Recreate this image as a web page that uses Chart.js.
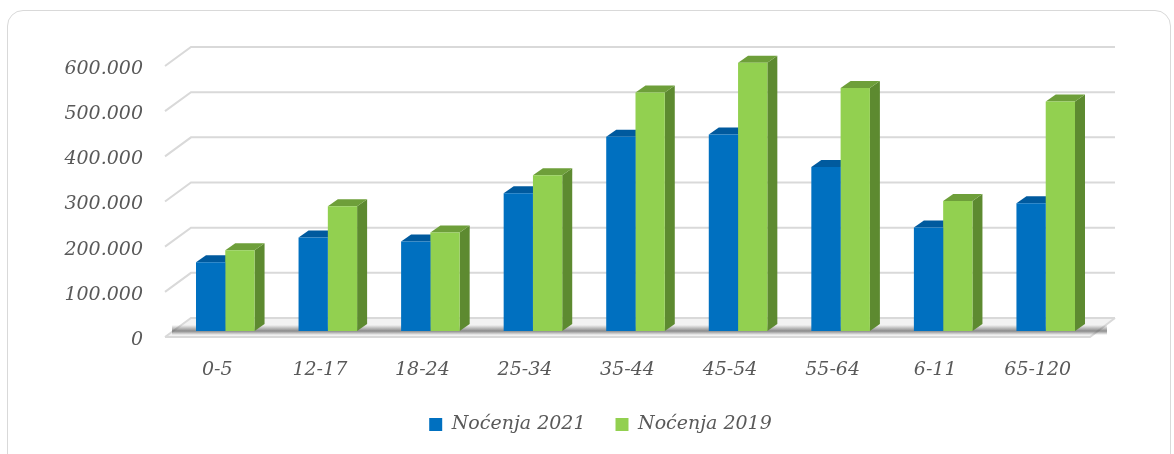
<!DOCTYPE html>
<html>
<head>
<meta charset="utf-8">
<script src="https://cdn.jsdelivr.net/npm/chart.js@4.4.0/dist/chart.umd.min.js"></script>
<style>
  html, body { margin: 0; padding: 0; background: #fff; }
  .wrap { position: relative; width: 1174px; height: 454px; overflow: hidden; }
  .card { position: absolute; left: 7px; top: 10px; width: 1164px; height: 480px; border: 1.5px solid #d9d9d9; border-radius: 16px; box-sizing: border-box; }
  canvas { position: absolute; left: 0; top: 0; }
</style>
</head>
<body>
<div class="wrap">
  <div class="card"></div>
  <canvas id="chart" width="1174" height="454"></canvas>
</div>
<script>
const categories = ['0-5', '12-17', '18-24', '25-34', '35-44', '45-54', '55-64', '6-11', '65-120'];
const nocenja2021 = [152000, 207000, 198000, 305000, 430000, 435000, 363000, 229000, 283000];
const nocenja2019 = [179000, 276000, 218000, 345000, 528000, 594000, 538000, 288000, 508000];
const seriesNames = ['Noćenja 2021', 'Noćenja 2019'];

const labelFont = { family: 'DejaVu Serif', style: 'italic', size: 19 };
const textColor = '#595959';

// bar depth (top / right side faces)
const DX = 10, DY = -7;
const faceColors = [
    { top: '#005a9e', side: '#00508c' },
    { top: '#6e9f3a', side: '#5d8a30' }
];

// floor, back wall gridlines and 3d faces, drawn under the bar fronts
const depthPlugin = {
    id: 'depth3d',
    afterLayout(chart) {
        // legend is centred under the whole card, not the plot
        chart.legend.left += 52;
        chart.legend.right += 52;
    },
    beforeDatasetsDraw(chart) {
        const { ctx, chartArea: a, scales: { y } } = chart;
        const y0 = y.getPixelForValue(0);
        ctx.save();

        // floor slab
        ctx.fillStyle = '#f2f2f2';
        ctx.beginPath();
        ctx.moveTo(a.left - 9, y0 + 6);
        ctx.lineTo(a.right - 7, y0 + 6);
        ctx.lineTo(a.right + 18, y0 - 13);
        ctx.lineTo(a.left + 17, y0 - 13);
        ctx.closePath();
        ctx.fill();

        // gridlines on the back wall with the slanted left edge
        ctx.strokeStyle = '#d9d9d9';
        ctx.lineWidth = 2;
        y.ticks.forEach(t => {
            const py = y.getPixelForValue(t.value);
            ctx.beginPath();
            ctx.moveTo(a.left - 9, py + 6);
            ctx.lineTo(a.left + 17, py - 13);
            ctx.lineTo(a.right + 18, py - 13);
            ctx.stroke();
        });
        ctx.beginPath();
        ctx.moveTo(a.left - 9, y0 + 6);
        ctx.lineTo(a.right - 7, y0 + 6);
        ctx.lineTo(a.right + 18, y0 - 13);
        ctx.stroke();

        // shadow under the bars
        const g = ctx.createLinearGradient(0, y0 - 6, 0, y0 + 4);
        g.addColorStop(0, 'rgba(70,70,70,0)');
        g.addColorStop(0.6, 'rgba(70,70,70,0.6)');
        g.addColorStop(1, 'rgba(70,70,70,0)');
        ctx.fillStyle = g;
        ctx.fillRect(a.left - 2, y0 - 6, a.right - a.left + 12, 10);

        chart.data.datasets.forEach((ds, i) => {
            const meta = chart.getDatasetMeta(i);
            meta.data.forEach(bar => {
                const l = bar.x - bar.width / 2, r = bar.x + bar.width / 2;
                ctx.fillStyle = faceColors[i].side;
                ctx.beginPath();
                ctx.moveTo(r, bar.y);
                ctx.lineTo(r + DX, bar.y + DY);
                ctx.lineTo(r + DX, bar.base + DY);
                ctx.lineTo(r, bar.base);
                ctx.closePath();
                ctx.fill();
                ctx.fillStyle = faceColors[i].top;
                ctx.beginPath();
                ctx.moveTo(l, bar.y);
                ctx.lineTo(r, bar.y);
                ctx.lineTo(r + DX, bar.y + DY);
                ctx.lineTo(l + DX, bar.y + DY);
                ctx.closePath();
                ctx.fill();
            });
        });
        ctx.restore();
    }
};

const ctx = document.getElementById('chart').getContext('2d');
new Chart(ctx, {
    type: 'bar',
    data: {
        labels: categories,
        datasets: [{
            label: seriesNames[0],
            data: nocenja2021,
            backgroundColor: '#0070c0',
            borderWidth: 0
        }, {
            label: seriesNames[1],
            data: nocenja2019,
            backgroundColor: '#92d050',
            borderWidth: 0
        }]
    },
    options: {
        responsive: false,
        animation: false,
        layout: { padding: { left: 0, right: 77, top: 60, bottom: 10 } },
        datasets: { bar: { categoryPercentage: 0.571, barPercentage: 1 } },
        scales: {
            x: {
                afterFit: scale => { scale.height = 54; },
                grid: { display: false, drawTicks: false },
                border: { display: false },
                ticks: { color: textColor, font: labelFont, padding: 28, labelOffset: -8, maxRotation: 0 }
            },
            y: {
                min: 0,
                max: 600000,
                afterFit: scale => { scale.width = 174; },
                grid: { display: false, drawTicks: false },
                border: { display: false },
                ticks: {
                    stepSize: 100000,
                    color: textColor,
                    font: labelFont,
                    padding: 31,
                    labelOffset: 9,
                    callback: v => v.toLocaleString('de-DE')
                }
            }
        },
        plugins: {
            legend: {
                position: 'bottom',
                labels: { boxWidth: 13, boxHeight: 13, padding: 30, color: textColor, font: labelFont }
            },
            tooltip: { enabled: false }
        }
    },
    plugins: [depthPlugin]
});
</script>
</body>
</html>
